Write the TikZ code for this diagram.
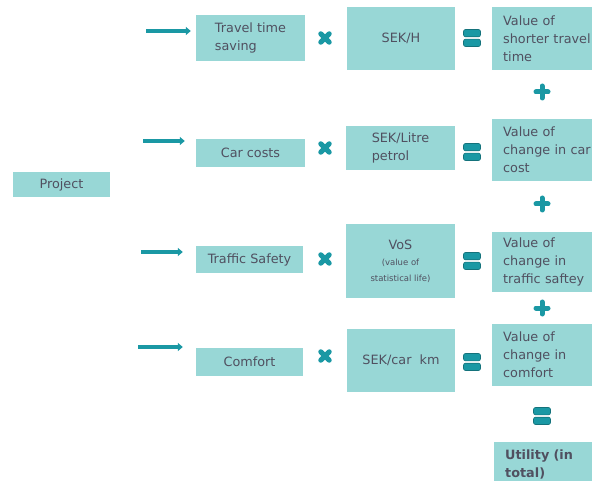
\documentclass[tikz,border=0pt]{standalone}
\usepackage{fontspec}
\setmainfont{DejaVu Sans}
\usetikzlibrary{arrows.meta}

\definecolor{boxfill}{RGB}{152,215,214}
\definecolor{signteal}{RGB}{26,152,164}
\definecolor{txtgray}{RGB}{80,80,96}

\tikzset{
  box/.style={fill=boxfill, text=txtgray, inner sep=0pt, align=left,
    font=\fontsize{12.8}{18}\selectfont},
  valuebox/.style={box, anchor=north west, minimum width=110pt,
    text width=92pt, inner xsep=11pt},
  feed/.style={signteal, line width=3.4pt, -{Triangle[length=5pt,width=8pt]}},
  plussign/.pic={
    \draw[signteal, line width=5pt, line cap=round] (-6,0) -- (6,0) (0,-6) -- (0,6);
  },
  timessign/.pic={
    \draw[signteal, line width=5pt, line cap=round, rotate=45] (-6,0) -- (6,0) (0,-6) -- (0,6);
  },
  equalsign/.pic={
    \filldraw[signteal, draw=signteal!75!black, line width=0.6pt, rounded corners=2pt]
      (-8.5,-8.5) rectangle (8.5,-1.2) (-8.5,1.2) rectangle (8.5,8.5);
  },
}

\begin{document}
\begin{tikzpicture}[x=1pt, y=-1pt]
  \useasboundingbox (0,0) rectangle (592,481);
  \clip (0,0) rectangle (592,481);

  \node[box, minimum width=97pt, minimum height=25pt] (project) at (61.5,184.5) {Project};

  % inputs
  \node[box, minimum width=109pt, minimum height=46pt] (travel) at (250.5,38) {Travel time\\saving};
  \node[box, minimum width=109pt, minimum height=28pt] (car) at (250.5,153) {Car costs};
  \node[box, minimum width=107pt, minimum height=27pt] (safety) at (249.5,259.5) {Traffic Safety};
  \node[box, minimum width=107pt, minimum height=28pt] (comfort) at (249.5,362) {Comfort};

  % unit prices
  \node[box, minimum width=108pt, minimum height=63pt] (sekh) at (401,38.5) {SEK/H};
  \node[box, minimum width=109pt, minimum height=44pt] (sekl) at (400.5,148) {SEK/Litre\\petrol};
  \node[box, minimum width=109pt, minimum height=74pt, align=center] (vos) at (400.5,261)
    {VoS\\[-2pt]\fontsize{8.5}{13}\selectfont (value of\\[-2pt]\fontsize{8.5}{13}\selectfont statistical life)};
  \node[box, minimum width=108pt, minimum height=63pt] (sekkm) at (401,360.5) {SEK/car\ \ km};

  % values
  \node[valuebox, minimum height=63pt] (vtime) at (492,7) {Value of\\shorter travel\\time};
  \node[valuebox, minimum height=62pt] (vcar) at (492,119) {Value of\\change in car\\cost};
  \node[valuebox, minimum height=60pt] (vsafety) at (492,232) {Value of\\change in\\traffic saftey};
  \node[valuebox, minimum height=62pt] (vcomfort) at (492,324) {Value of\\change in\\comfort};
  \node[valuebox, minimum height=45pt, font=\bfseries\fontsize{12.8}{18}\selectfont] (utility) at (494,442) {Utility (in\\total)};

  % arrows
  \coordinate (s1) at (146,31);
  \coordinate (s2) at (143,141);
  \coordinate (s3) at (141,252);
  \coordinate (s4) at (138,347);
  \draw[feed, shorten >=5pt] (s1) -- (s1 -| travel.west);
  \draw[feed, shorten >=11pt] (s2) -- (s2 -| car.west);
  \draw[feed, shorten >=13pt] (s3) -- (s3 -| safety.west);
  \draw[feed, shorten >=13pt] (s4) -- (s4 -| comfort.west);

  % signs
  \foreach \y/\z in {38/38, 148/152, 259/261, 356/362}{
    \pic at (325,\y) {timessign};
    \pic at (472,\z) {equalsign};
  }
  \foreach \y in {92, 204, 308}
    \pic at (542,\y) {plussign};
  \pic at (542,416) {equalsign};
\end{tikzpicture}
\end{document}
